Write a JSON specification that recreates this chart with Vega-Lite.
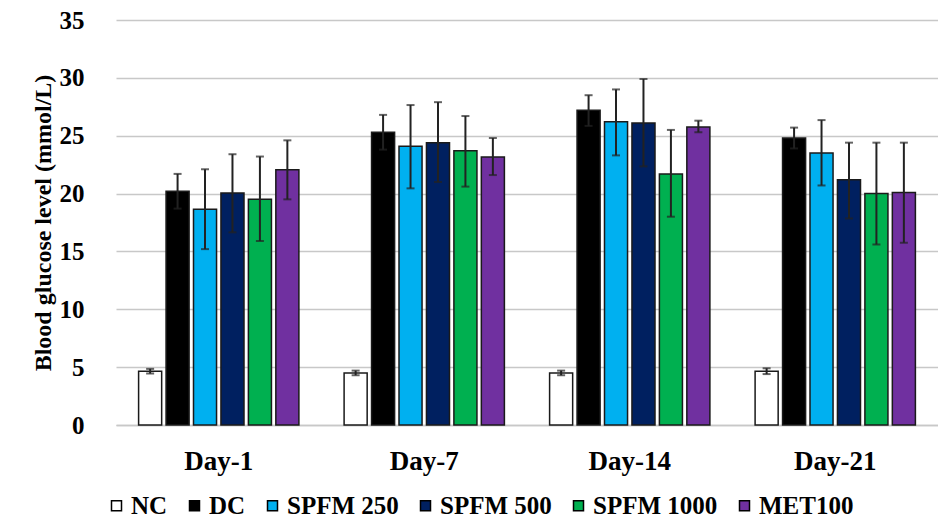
{
  "$schema": "https://vega.github.io/schema/vega-lite/v6.json",
  "width": 822,
  "height": 405,
  "autosize": {"type": "none"},
  "padding": {"left": 116, "top": 20, "right": 0, "bottom": 95},
  "background": "white",
  "config": {
    "view": {"stroke": null},
    "font": "Liberation Serif"
  },
  "data": {
    "values": [
      {"day": "Day-1", "group": "NC", "mean": 4.65, "lo": 4.45, "hi": 4.85},
      {"day": "Day-1", "group": "DC", "mean": 20.2, "lo": 18.7, "hi": 21.7},
      {"day": "Day-1", "group": "SPFM 250", "mean": 18.65, "lo": 15.2, "hi": 22.1},
      {"day": "Day-1", "group": "SPFM 500", "mean": 20.05, "lo": 16.65, "hi": 23.4},
      {"day": "Day-1", "group": "SPFM 1000", "mean": 19.5, "lo": 15.9, "hi": 23.2},
      {"day": "Day-1", "group": "MET100", "mean": 22.05, "lo": 19.5, "hi": 24.6},
      {"day": "Day-7", "group": "NC", "mean": 4.5, "lo": 4.3, "hi": 4.7},
      {"day": "Day-7", "group": "DC", "mean": 25.3, "lo": 23.8, "hi": 26.8},
      {"day": "Day-7", "group": "SPFM 250", "mean": 24.1, "lo": 20.45, "hi": 27.65},
      {"day": "Day-7", "group": "SPFM 500", "mean": 24.4, "lo": 21.0, "hi": 27.9},
      {"day": "Day-7", "group": "SPFM 1000", "mean": 23.7, "lo": 20.6, "hi": 26.7},
      {"day": "Day-7", "group": "MET100", "mean": 23.15, "lo": 21.6, "hi": 24.8},
      {"day": "Day-14", "group": "NC", "mean": 4.5, "lo": 4.3, "hi": 4.7},
      {"day": "Day-14", "group": "DC", "mean": 27.2, "lo": 25.85, "hi": 28.5},
      {"day": "Day-14", "group": "SPFM 250", "mean": 26.2, "lo": 23.3, "hi": 29.0},
      {"day": "Day-14", "group": "SPFM 500", "mean": 26.1, "lo": 22.35, "hi": 29.9},
      {"day": "Day-14", "group": "SPFM 1000", "mean": 21.7, "lo": 18.0, "hi": 25.5},
      {"day": "Day-14", "group": "MET100", "mean": 25.75, "lo": 25.3, "hi": 26.3},
      {"day": "Day-21", "group": "NC", "mean": 4.65, "lo": 4.4, "hi": 4.9},
      {"day": "Day-21", "group": "DC", "mean": 24.8, "lo": 23.9, "hi": 25.7},
      {"day": "Day-21", "group": "SPFM 250", "mean": 23.5, "lo": 20.7, "hi": 26.35},
      {"day": "Day-21", "group": "SPFM 500", "mean": 21.2, "lo": 17.85, "hi": 24.4},
      {"day": "Day-21", "group": "SPFM 1000", "mean": 20.0, "lo": 15.6, "hi": 24.4},
      {"day": "Day-21", "group": "MET100", "mean": 20.1, "lo": 15.75, "hi": 24.4}
    ]
  },
  "encoding": {
    "x": {
      "field": "day",
      "type": "nominal",
      "sort": ["Day-1", "Day-7", "Day-14", "Day-21"],
      "scale": {"paddingInner": 0.22, "paddingOuter": 0.11},
      "axis": {
        "title": null,
        "labelAngle": 0,
        "labelFont": "Liberation Serif",
        "labelFontSize": 27,
        "labelFontWeight": "bold",
        "labelColor": "black",
        "ticks": false,
        "tickSize": 0,
        "labelPadding": 23,
        "domainColor": "#c8c8c8",
        "domainWidth": 1.5
      }
    },
    "xOffset": {
      "field": "group",
      "type": "nominal",
      "sort": ["NC", "DC", "SPFM 250", "SPFM 500", "SPFM 1000", "MET100"],
      "scale": {"paddingInner": 0.16, "paddingOuter": 0}
    }
  },
  "layer": [
    {
      "mark": {"type": "bar", "stroke": "#1a1a1a", "strokeWidth": 1.5},
      "encoding": {
        "y": {
          "field": "mean",
          "type": "quantitative",
          "scale": {"domain": [0, 35], "nice": false},
          "axis": {
            "values": [0, 5, 10, 15, 20, 25, 30, 35],
            "title": "Blood glucose level (mmol/L)",
            "titleFont": "Liberation Serif",
            "titleFontSize": 24,
            "titleFontWeight": "bold",
            "titleColor": "black",
            "titlePadding": 4,
            "labelFont": "Liberation Serif",
            "labelFontSize": 25,
            "labelFontWeight": "bold",
            "labelColor": "black",
            "labelPadding": 32,
            "ticks": false,
            "tickSize": 0,
            "domain": false,
            "grid": true,
            "gridColor": "#c8c8c8",
            "gridWidth": 1.5
          }
        },
        "fill": {
          "field": "group",
          "type": "nominal",
          "scale": {
            "domain": ["NC", "DC", "SPFM 250", "SPFM 500", "SPFM 1000", "MET100"],
            "range": ["#ffffff", "#000000", "#00b0f0", "#002060", "#00b050", "#7030a0"]
          },
          "legend": {
            "title": null,
            "orient": "none",
            "direction": "horizontal",
            "legendX": -12,
            "legendY": 473,
            "padding": 0,
            "symbolType": "square",
            "symbolSize": 100,
            "symbolStrokeColor": "black",
            "symbolStrokeWidth": 1.5,
            "labelFont": "Liberation Serif",
            "labelFontSize": 25,
            "labelFontWeight": "bold",
            "labelColor": "black",
            "labelOffset": 2,
            "columnPadding": 14,
            "labelLimit": 300
          }
        }
      }
    },
    {
      "mark": {"type": "rule", "color": "#222222", "strokeWidth": 2},
      "encoding": {
        "y": {"field": "lo", "type": "quantitative"},
        "y2": {"field": "hi"}
      }
    },
    {
      "mark": {"type": "tick", "color": "#222222", "size": 8, "thickness": 2},
      "encoding": {
        "y": {"field": "hi", "type": "quantitative"}
      }
    },
    {
      "mark": {"type": "tick", "color": "#222222", "size": 8, "thickness": 2},
      "encoding": {
        "y": {"field": "lo", "type": "quantitative"}
      }
    }
  ]
}
